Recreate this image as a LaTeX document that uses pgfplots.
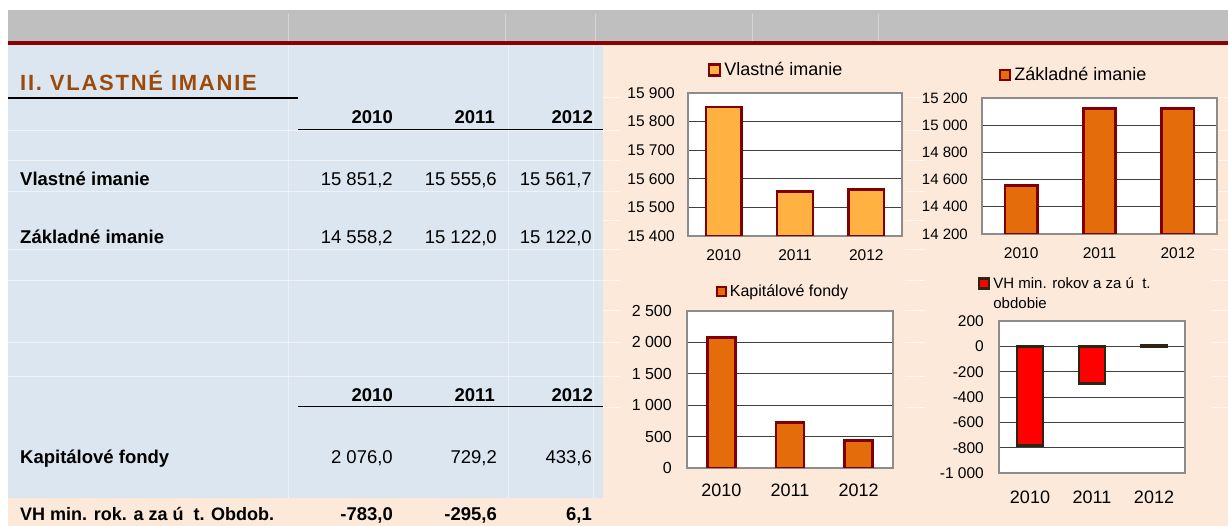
\documentclass[border=0pt]{standalone}
\usepackage{fontspec}
\setmainfont{Liberation Sans}
\usepackage{pgfplots}
\pgfplotsset{compat=1.18}
\definecolor{bandgray}{HTML}{BFBFBF}
\definecolor{topred}{HTML}{8B0000}
\definecolor{tblue}{HTML}{DCE6F1}
\definecolor{peach}{HTML}{FDE9D9}
\definecolor{titlebrown}{HTML}{9C4A0B}
\definecolor{lorange}{HTML}{FFB142}
\definecolor{dorange}{HTML}{E46C0A}
\definecolor{edgered}{HTML}{800000}
\definecolor{edgedark}{HTML}{2E2414}
\pgfplotsset{
  minichart/.style={
    scale only axis, anchor=north west,
    ybar, bar shift=0pt,
    xmin=-0.5, xmax=2.5,
    xtick={0,1,2}, xticklabels={2010,2011,2012},
    major tick length=0pt,
    scaled y ticks=false,
    ymajorgrids, grid style={draw=black!75, line width=0.8pt},
    axis line style={draw=black!45, line width=2.2pt},
    axis background/.style={fill=white},
    /pgf/number format/assume math mode=true,
    /pgf/number format/1000 sep={\ },
    yticklabel style={inner sep=0pt},
    xticklabel style={inner sep=0pt, anchor=north},
    legend style={draw=none, fill=none, inner sep=0pt, outer sep=0pt,
      nodes={inner sep=0pt},
      /tikz/every odd column/.style={column sep=3pt}},
    legend cell align=left,
  },
  legimg/.style={legend image code/.code={\draw[##1] (0pt,-#1/2) rectangle (#1,#1/2);}},
}
\begin{document}
\begin{tikzpicture}
\begin{scope}[x=1pt,y=-1pt]
\fill[white] (0,0) rectangle (1228,526);
\fill[bandgray] (8,10) rectangle (1228,41);
\foreach \xx in {288,505,595,752,878} \draw[white,opacity=0.35,line width=0.8pt] (\xx,14) -- (\xx,41);
\fill[topred] (8,41) rectangle (1228,45);
\fill[tblue] (8,45) rectangle (603,498);
\fill[peach] (603,45) rectangle (1228,526);
\fill[peach] (8,498) rectangle (603,526);
% faint cell gridlines
\foreach \yy in {130,160,191,249,280,342,376} \draw[white,opacity=0.5,line width=0.8pt] (8,\yy) -- (603,\yy);
\foreach \yy in {97,130,160,191,220,249,280,310,342,376,407} {\draw[white,opacity=0.6,line width=0.8pt] (603,\yy) -- (620,\yy); \draw[white,opacity=0.6,line width=0.8pt] (905,\yy) -- (925,\yy); \draw[white,opacity=0.6,line width=0.8pt] (1212,\yy) -- (1228,\yy);}
\foreach \xx in {288,508,593} \draw[white,opacity=0.45,line width=0.8pt] (\xx,45) -- (\xx,498);
% title
\node[anchor=base west, inner sep=0pt, text=titlebrown] at (20,91) {\fontsize{22}{25}\selectfont\bfseries\addfontfeature{LetterSpace=8}II. VLASTNÉ IMANIE};
\draw[black, line width=1.2pt] (8,98) -- (298,98);
\draw[black, line width=1.2pt] (298,129.5) -- (603,129.5);
\draw[black, line width=1.2pt] (298,406.5) -- (603,406.5);
\begin{scope}[every node/.style={inner sep=0pt, font=\fontsize{18.5}{21}\selectfont}]
\node[anchor=base east] at (393,123.5) {\bfseries 2010};
\node[anchor=base east] at (495,123.5) {\bfseries 2011};
\node[anchor=base east] at (593,123.5) {\bfseries 2012};
\node[anchor=base west] at (20,186) {\bfseries Vlastné imanie};
\node[anchor=base east] at (393,186) {15 851,2};
\node[anchor=base east] at (497,186) {15 555,6};
\node[anchor=base east] at (592,186) {15 561,7};
\node[anchor=base west] at (20,244) {\bfseries Základné imanie};
\node[anchor=base east] at (393,244) {14 558,2};
\node[anchor=base east] at (497,244) {15 122,0};
\node[anchor=base east] at (592,244) {15 122,0};
\node[anchor=base east] at (393,401.5) {\bfseries 2010};
\node[anchor=base east] at (495,401.5) {\bfseries 2011};
\node[anchor=base east] at (593,401.5) {\bfseries 2012};
\node[anchor=base west] at (20,463) {\bfseries Kapitálové fondy};
\node[anchor=base east] at (393,463) {2 076,0};
\node[anchor=base east] at (497,463) {729,2};
\node[anchor=base east] at (592,463) {433,6};
\node[anchor=base west] at (20,520) {\fontsize{18}{21}\selectfont\bfseries VH min. rok. a za ú\ \ t. Obdob.};
\node[anchor=base east] at (393,520) {\bfseries -783,0};
\node[anchor=base east] at (497,520) {\bfseries -295,6};
\node[anchor=base east] at (592,520) {\bfseries 6,1};
\end{scope}
\end{scope}

% Chart 1
\begin{axis}[minichart, at={(688pt,-93pt)}, width=214pt, height=143pt,
  ymin=15400, ymax=15900, ytick={15400,15500,...,15900}, bar width=0.5,
  yticklabel style={font=\fontsize{15.5}{18}\selectfont, xshift=-13pt},
  xticklabel style={font=\fontsize{15.5}{18}\selectfont, yshift=-13.5pt},
  legend style={at={(0.0935,1.16)}, anchor=west, font=\fontsize{18}{20}\selectfont}]
\addlegendimage{legimg=11pt, fill=lorange, draw=edgered, line width=2.4pt}
\addlegendentry{Vlastné imanie}
\addplot[fill=lorange, draw=edgered, line width=2.6pt, forget plot] coordinates {(0,15851.2) (1,15555.6) (2,15561.7)};
\end{axis}

% Chart 2
\begin{axis}[minichart, at={(982pt,-98pt)}, width=235pt, height=136pt,
  ymin=14200, ymax=15200, ytick={14200,14400,...,15200}, bar width=0.41,
  yticklabel style={font=\fontsize{15}{18}\selectfont, xshift=-14pt},
  xticklabel style={font=\fontsize{15.5}{18}\selectfont, yshift=-13.5pt},
  legend style={at={(0.072,1.17)}, anchor=west, font=\fontsize{18}{20}\selectfont}]
\addlegendimage{legimg=10pt, fill=dorange, draw=edgered, line width=2.4pt}
\addlegendentry{Základné imanie}
\addplot[fill=dorange, draw=edgered, line width=2.6pt, forget plot] coordinates {(0,14558.2) (1,15122.0) (2,15122.0)};
\end{axis}

% Chart 3
\begin{axis}[minichart, at={(687pt,-311pt)}, width=206pt, height=157pt,
  ymin=0, ymax=2500, ytick={0,500,...,2500}, bar width=0.41,
  yticklabel style={font=\fontsize{16}{18}\selectfont, xshift=-15pt},
  xticklabel style={font=\fontsize{18}{20}\selectfont, yshift=-15.5pt},
  legend style={at={(0.14,1.127)}, anchor=west, font=\fontsize{16}{18}\selectfont}]
\addlegendimage{legimg=9pt, fill=dorange, draw=edgered, line width=2pt}
\addlegendentry{Kapitálové fondy}
\addplot[fill=dorange, draw=edgered, line width=2.6pt, forget plot] coordinates {(0,2076.0) (1,729.2) (2,433.6)};
\end{axis}

% Chart 4
\begin{axis}[minichart, at={(999pt,-321pt)}, width=186pt, height=152pt,
  ymin=-1000, ymax=200, ytick={-1000,-800,...,200}, bar width=0.42,
  yticklabel style={font=\fontsize{15.5}{18}\selectfont, xshift=-15pt},
  xticklabel style={font=\fontsize{18}{20}\selectfont, yshift=-17.5pt},
  legend style={at={(-0.113,1.181)}, anchor=west, font=\fontsize{15}{17}\selectfont,
    /tikz/row sep=8pt}]
\addlegendimage{legimg=10pt, fill=red, draw=edgedark, line width=2.4pt}
\addlegendentry{VH min. rokov a za ú\ \ t.}
\addlegendimage{empty legend}
\addlegendentry{obdobie}
\addplot[fill=red, draw=edgedark, line width=2.6pt, forget plot] coordinates {(0,-783.0) (1,-295.6) (2,6.1)};
\end{axis}

\pgfresetboundingbox
\path (0pt,0pt) rectangle (1228pt,-526pt);
\end{tikzpicture}
\end{document}
